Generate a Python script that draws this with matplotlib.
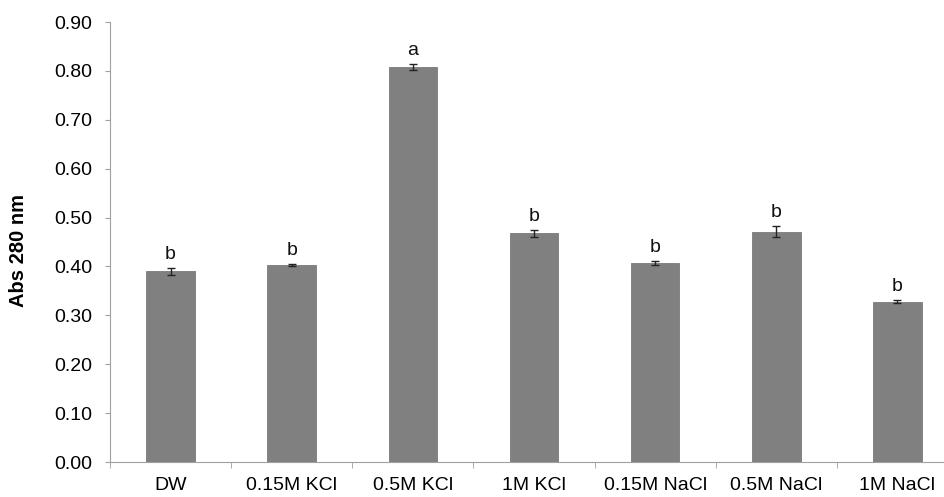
import matplotlib
matplotlib.use("Agg")
from matplotlib import pyplot as plt
import matplotlib.ticker as ticker
import numpy as np

plt.rcParams['font.family'] = ['Liberation Sans', 'DejaVu Sans']

# data
categories = ['DW', '0.15M KCl', '0.5M KCl', '1M KCl', '0.15M NaCl', '0.5M NaCl', '1M NaCl']
values = [0.390, 0.403, 0.808, 0.468, 0.407, 0.471, 0.328]
errors = [0.007, 0.002, 0.007, 0.007, 0.004, 0.011, 0.003]
letters = ['b', 'b', 'a', 'b', 'b', 'b', 'b']

fig = plt.figure(figsize=(9.45, 4.97), dpi=100)
ax = fig.add_axes([0.1164, 0.0704, 0.8836, 0.8853])

x = np.arange(len(categories))
ax.bar(x, values, width=0.4, color='#808080', edgecolor='#7a7a7a', linewidth=0.6,
       yerr=errors, error_kw=dict(ecolor='#222222', elinewidth=1, capsize=3, capthick=1))

for xi, v, e, l in zip(x, values, errors, letters):
    ax.text(xi, v + e + 0.01, l, ha='center', va='bottom', fontsize=14, color='#111111')

ax.set_xlim(-0.5, -0.5 + 834 / 121)
ax.set_ylim(0, 0.9)

ax.yaxis.set_major_locator(ticker.MultipleLocator(0.1))
ax.yaxis.set_major_formatter(ticker.FormatStrFormatter('%.2f'))
ax.set_xticks(x)
ax.set_xticklabels(categories)
ax.xaxis.set_minor_locator(ticker.FixedLocator(np.arange(-0.5, len(categories) + 0.5, 1)))

ax.tick_params(axis='y', which='major', labelsize=14, length=3.6, color='#a0a0a0', pad=9)
ax.tick_params(axis='x', which='major', labelsize=14, length=0, pad=11)
ax.tick_params(axis='x', which='minor', length=4.5, color='#a0a0a0')

for s in ['top', 'right']:
    ax.spines[s].set_visible(False)
for s in ['left', 'bottom']:
    ax.spines[s].set_color('#a0a0a0')

ax.set_ylabel('Abs 280 nm', fontsize=14.5, fontweight='bold')
ax.yaxis.set_label_coords(-0.0984, 0.48)

fig.savefig('out.png', dpi=100)
